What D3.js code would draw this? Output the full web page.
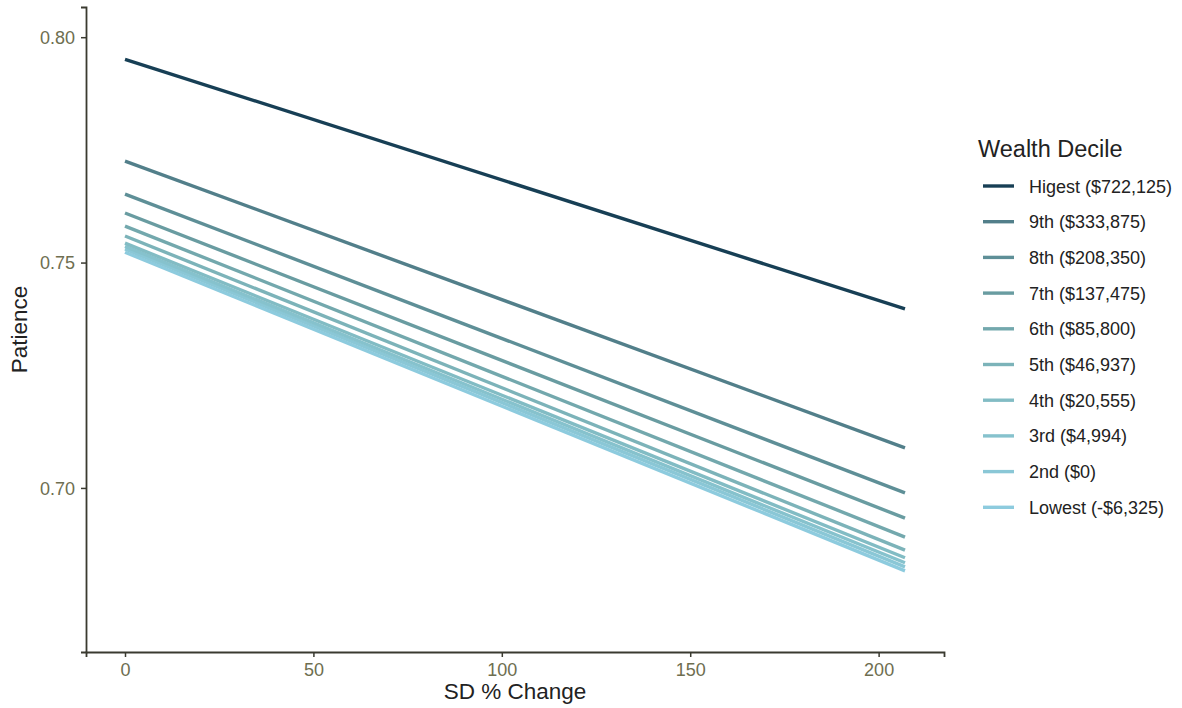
<!DOCTYPE html>
<html><head><meta charset="utf-8">
<script src="https://cdn.jsdelivr.net/npm/d3@7"></script>
<style>html,body{margin:0;padding:0;background:#fff;} svg{display:block;font-family:"Liberation Sans",Arial,sans-serif;}</style>
</head><body>
<svg id="chart" width="1182" height="708"></svg>
<script>
const deciles = ["Higest ($722,125)","9th ($333,875)","8th ($208,350)","7th ($137,475)","6th ($85,800)","5th ($46,937)","4th ($20,555)","3rd ($4,994)","2nd ($0)","Lowest (-$6,325)"];
const xStart = 0, xEnd = 207;
const startValues = [0.7951,0.7725,0.7652,0.7610,0.7581,0.7559,0.7543,0.7536,0.7530,0.7523];
const endValues   = [0.7397,0.7089,0.6989,0.6933,0.6891,0.6862,0.6845,0.6834,0.6825,0.6816];
const colors = ["#173f55","#527f8a","#5e8f97","#699ca1","#73a8ad","#7cb3b9","#82bcc4","#86c2cd","#8ac7d6","#8dcbde"];
const xTicks = [0,50,100,150,200];
const yTicks = [0.70,0.75,0.80];

const svg = d3.select("#chart");
const L = 86, R = 944, T = 7, B = 652;
const x = d3.scaleLinear().domain([-10.35, 217.35]).range([L, R]);
const y = d3.scaleLinear().domain([0.6636, 0.8067]).range([B, T]);

const series = deciles.map((d,i)=>({name:d,color:colors[i],pts:[[xStart,startValues[i]],[xEnd,endValues[i]]]}));
const line = d3.line().x(d=>x(d[0])).y(d=>y(d[1]));

svg.append("g").selectAll("path").data(series.slice().reverse()).join("path")
  .attr("d", d=>line(d.pts)).attr("fill","none").attr("stroke", d=>d.color)
  .attr("stroke-width",3.4).attr("stroke-linecap","butt");

const xAxis = svg.append("g").attr("transform",`translate(0,${B})`)
  .call(d3.axisBottom(x).tickValues(xTicks).tickSize(5).tickPadding(6).tickFormat(d3.format("d")));
const yAxis = svg.append("g").attr("transform",`translate(${L},0)`)
  .call(d3.axisLeft(y).tickValues(yTicks).tickSize(5).tickPadding(6).tickFormat(d3.format(".2f")));
[xAxis,yAxis].forEach(a=>{
  a.select(".domain").attr("stroke","#3a3a30").attr("stroke-width",1.8);
  a.selectAll(".tick line").attr("stroke","#3a3a30").attr("stroke-width",1.5);
  a.selectAll(".tick text").attr("fill","#6e6e50").attr("font-size",18).attr("font-family","Liberation Sans, Arial, sans-serif");
});
yAxis.selectAll(".tick text").attr("dy","0.35em");

svg.append("text").attr("x",(L+R)/2).attr("y",699).attr("text-anchor","middle")
  .attr("font-size",22.5).attr("fill","#222").text("SD % Change");
svg.append("text").attr("transform",`translate(27,${(T+B)/2}) rotate(-90)`).attr("text-anchor","middle")
  .attr("font-size",22.5).attr("fill","#222").text("Patience");

const lg = svg.append("g");
lg.append("text").attr("x",978).attr("y",157).attr("font-size",23.5).attr("fill","#222").text("Wealth Decile");
const items = lg.selectAll("g.item").data(series).join("g").attr("class","item")
  .attr("transform",(d,i)=>`translate(0,${186 + i*35.7})`);
items.append("line").attr("x1",983).attr("x2",1014).attr("y1",0).attr("y2",0)
  .attr("stroke",d=>d.color).attr("stroke-width",3.4);
items.append("text").attr("x",1029).attr("y",6.5).attr("font-size",18).attr("fill","#222").text(d=>d.name);
</script>
</body></html>
